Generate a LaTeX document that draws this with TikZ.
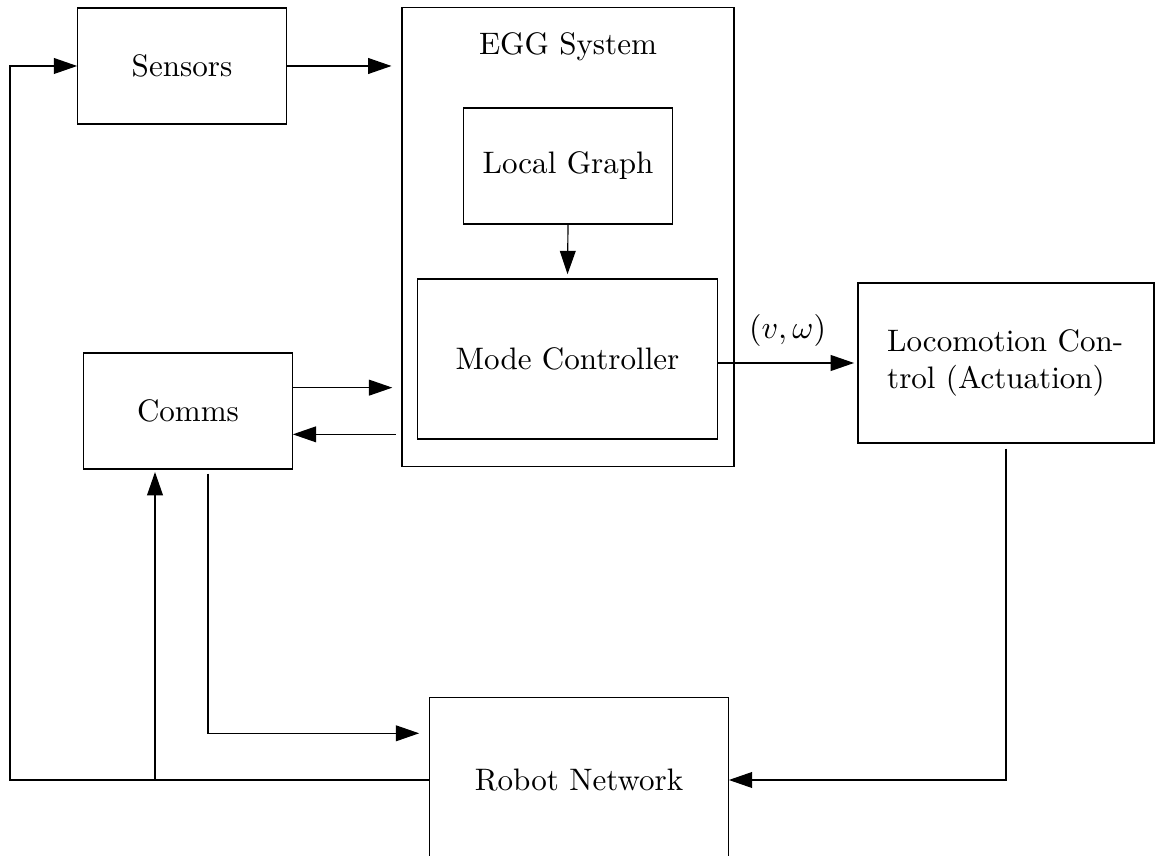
\documentclass[tikz,border=0pt]{standalone}
\usepackage{amsmath,amssymb}
\usepackage{tikz}
\usetikzlibrary{arrows.meta,positioning,calc}

\begin{document}
\begin{tikzpicture}[x=0.012cm, y=-0.012cm, font=\fontsize{10.6pt}{12.8pt}\selectfont,
    block/.style={draw, rectangle, minimum width=2.5cm, minimum height=1.39cm},
    arr/.style={-{Triangle[length=0.28cm, width=0.19cm]}}]
  \useasboundingbox (0,0) rectangle (1155,856);
  % Blocks
  \node[block] (sensors) at (182,66) {Sensors};
  \node[draw, minimum width=3.98cm, minimum height=5.5cm] (egg) at (568,237) {};
  \node (eggtitle) at (568,47) {EGG System};
  \node[block] (graph) at (568,166) {Local Graph};
  \node[draw, minimum width=3.59cm, minimum height=1.92cm] (mode) at (567.5,359) {Mode Controller};
  \node[draw, minimum width=3.55cm, minimum height=1.92cm, text width=2.85cm] (loco) at (1006,363)
    {Locomotion Control (Actuation)};
  \node[block] (comms) at (188,411) {Comms};
  \node[draw, minimum width=3.58cm, minimum height=1.97cm] (robot) at (579,780) {Robot Network};
  \coordinate (lft) at (10,0);
  \coordinate (tap) at (155,780);
  % Signal flow
  \draw[arr, shorten >=0.12cm] (sensors.east) -- (sensors.east -| egg.west);
  \draw[arr, shorten >=0.05cm] (graph.south) -- (mode.north);
  \draw[arr, shorten >=0.04cm] (mode.east |- loco.west) -- (loco.west)
    node[midway, above=2pt] {$(v,\omega)$};
  \draw[arr, shorten >=0.11cm] ([yshift=0.28cm]comms.east) -- ([yshift=0.28cm]comms.east -| egg.west);
  \draw[arr, shorten <=0.07cm] ([yshift=-0.28cm]comms.east -| egg.west) -- ([yshift=-0.28cm]comms.east);
  \draw[arr, shorten <=0.06cm] (loco.south) |- (robot.east);
  % Feedback
  \draw[arr] (robot.west) -- (robot.west -| lft) |- (sensors.west);
  \draw[arr, shorten >=0.03cm] (tap) -- (tap |- comms.south);
  \draw[arr, shorten <=0.05cm, shorten >=0.12cm] ([xshift=0.24cm]comms.south)
    |- ([yshift=0.56cm]robot.west);
\end{tikzpicture}
\end{document}
